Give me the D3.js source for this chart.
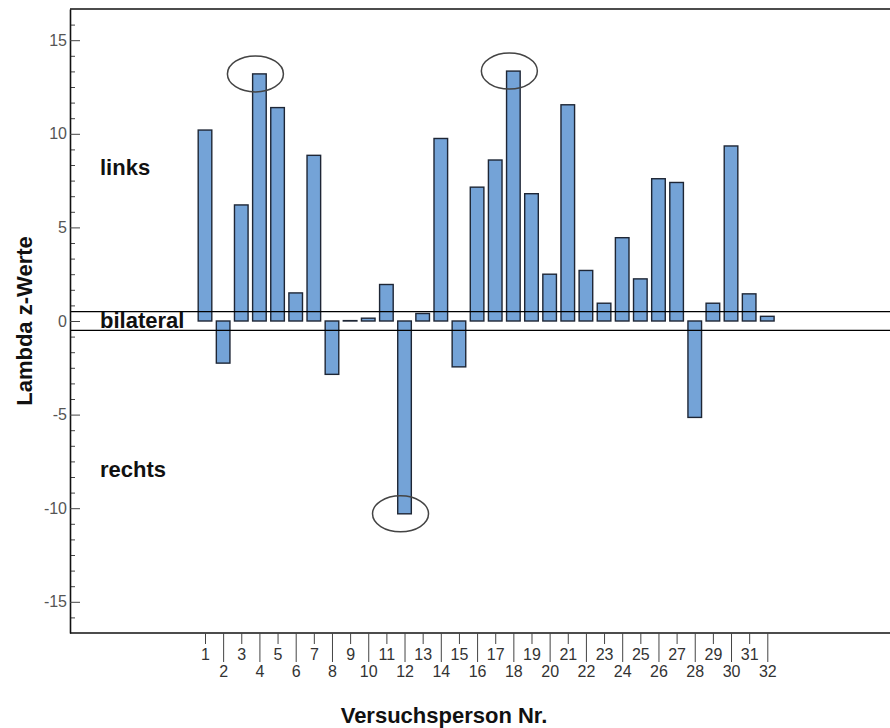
<!DOCTYPE html>
<html>
<head>
<meta charset="utf-8">
<script src="https://cdn.jsdelivr.net/npm/d3@7"></script>
<style>
  html, body { margin: 0; padding: 0; background: #fff; }
  svg { display: block; }
  text { font-family: Arial, "Liberation Sans", sans-serif; }
</style>
</head>
<body>
<svg id="chart" width="890" height="728"></svg>
<script>
// Lambda z-values per participant (Versuchsperson 1..32)
const persons = d3.range(1, 33);
const lambdaZ = [
  10.2, -2.25, 6.2, 13.2, 11.4, 1.5, 8.85, -2.85, 0.02, 0.15,
  1.95, -10.3, 0.4, 9.75, -2.45, 7.15, 8.6, 13.35, 6.8, 2.5,
  11.55, 2.7, 0.95, 4.45, 2.25, 7.6, 7.4, -5.15, 0.95, 9.35,
  1.45, 0.25
];
// participants singled out with a circle
const highlighted = [4, 12, 18];
// band of "bilateral" around zero
const bilateralBand = [-0.5, 0.5];
const yMajorTicks = [-15, -10, -5, 0, 5, 10, 15];
const regionLabels = [
  { text: "links", y: 7.8 },
  { text: "bilateral", y: -0.38 },
  { text: "rechts", y: -8.33 }
];

(function draw() {
  const svg = d3.select("#chart");
  const W = 890;
  const plotLeft = 70, plotTop = 9, plotBottom = 633;

  const y = d3.scaleLinear().domain([-50 / 3, 50 / 3]).range([plotBottom, plotTop]);
  const x = d3.scalePoint().domain(persons).range([205, 767.3]);
  const barW = x.step() * 0.75;

  const data = persons.map((p, i) => ({ p, v: lambdaZ[i] }));
  const font = "Arial, 'Liberation Sans', sans-serif";

  // bars
  svg.append("g").selectAll("rect").data(data).join("rect")
    .attr("x", d => x(d.p) - barW / 2)
    .attr("y", d => y(Math.max(0, d.v)))
    .attr("width", barW)
    .attr("height", d => Math.abs(y(d.v) - y(0)))
    .attr("fill", "#74a3d7")
    .attr("stroke", "#1e2635")
    .attr("stroke-width", 1.4);

  // bilateral reference lines
  svg.append("g").selectAll("line").data(bilateralBand).join("line")
    .attr("x1", plotLeft).attr("x2", W)
    .attr("y1", d => y(d)).attr("y2", d => y(d))
    .attr("stroke", "#000").attr("stroke-width", 1.3);

  // frame lines top and bottom
  svg.append("g").selectAll("line").data([plotTop, plotBottom]).join("line")
    .attr("x1", plotLeft).attr("x2", W)
    .attr("y1", d => d).attr("y2", d => d)
    .attr("stroke", "#111").attr("stroke-width", 1.6);

  // y axis: minor ticks every 5/6
  const minor = d3.range(-19, 20).filter(k => k % 6 !== 0).map(k => k * 5 / 6);
  svg.append("g").attr("transform", `translate(${plotLeft},0)`)
    .call(d3.axisLeft(y).tickValues(minor).tickSizeInner(-5).tickSizeOuter(0).tickFormat(""))
    .call(g => g.select(".domain").remove())
    .call(g => g.selectAll("line").attr("stroke", "#444"));

  // y axis: major ticks with labels (plain hyphen for negatives)
  svg.append("g").attr("transform", `translate(${plotLeft},0)`)
    .call(d3.axisLeft(y).tickValues(yMajorTicks).tickSizeInner(-10).tickSizeOuter(0).tickPadding(3)
      .tickFormat(d => String(d)))
    .call(g => g.select(".domain").attr("stroke", "#111").attr("stroke-width", 1.6))
    .call(g => g.selectAll(".tick line").attr("stroke", "#444"))
    .call(g => g.selectAll("text").attr("font-size", 16).attr("fill", "#555").attr("font-family", font));

  // x axis: odd numbers on short ticks, even numbers on long ticks
  const odd = persons.filter(p => p % 2 === 1);
  const even = persons.filter(p => p % 2 === 0);
  svg.append("g").attr("transform", `translate(0,${plotBottom})`)
    .call(d3.axisBottom(x).tickValues(odd).tickSizeInner(11).tickSizeOuter(0).tickPadding(5))
    .call(g => g.select(".domain").remove())
    .call(g => g.selectAll(".tick line").attr("stroke", "#444"))
    .call(g => g.selectAll("text").attr("font-size", 16).attr("fill", "#333").attr("font-family", font));
  svg.append("g").attr("transform", `translate(0,${plotBottom})`)
    .call(d3.axisBottom(x).tickValues(even).tickSizeInner(29).tickSizeOuter(0).tickPadding(4))
    .call(g => g.select(".domain").remove())
    .call(g => g.selectAll(".tick line").attr("stroke", "#444"))
    .call(g => g.selectAll("text").attr("font-size", 16).attr("fill", "#333").attr("font-family", font));

  // region labels
  svg.append("g").selectAll("text").data(regionLabels).join("text")
    .attr("x", 100).attr("y", d => y(d.y))
    .attr("font-size", 22).attr("font-weight", "bold").attr("fill", "#111")
    .text(d => d.text);

  // circles around extreme values
  svg.append("g").selectAll("ellipse")
    .data(data.filter(d => highlighted.includes(d.p))).join("ellipse")
    .attr("cx", d => x(d.p) - 4)
    .attr("cy", d => y(d.v))
    .attr("rx", 28).attr("ry", 18)
    .attr("fill", "none").attr("stroke", "#444").attr("stroke-width", 1.5);

  // axis titles
  svg.append("text")
    .attr("transform", `translate(32,${(plotTop + plotBottom) / 2}) rotate(-90)`)
    .attr("text-anchor", "middle")
    .attr("font-size", 22).attr("font-weight", "bold").attr("fill", "#111")
    .text("Lambda z-Werte");
  svg.append("text")
    .attr("x", 444).attr("y", 723)
    .attr("text-anchor", "middle")
    .attr("font-size", 22).attr("font-weight", "bold").attr("fill", "#111")
    .text("Versuchsperson Nr.");
})();
</script>
</body>
</html>
